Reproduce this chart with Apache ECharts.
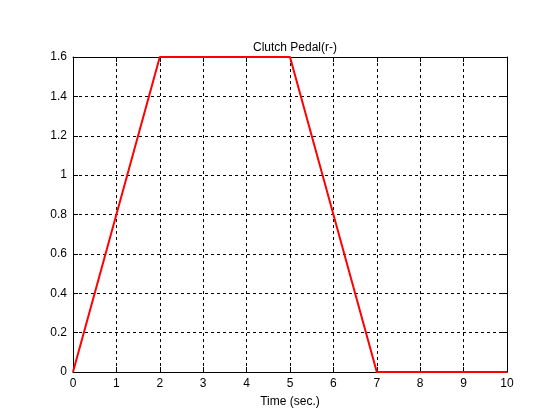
<!DOCTYPE html>
<html><head><meta charset="utf-8">
<script src="https://cdn.jsdelivr.net/npm/echarts@6/dist/echarts.min.js"></script>
<style>html,body{margin:0;padding:0;background:#fff}#c{width:560px;height:420px}</style>
</head><body><div id="c"></div>
<script>
const timeX = [0, 2, 5, 7, 10];
const pedal = [0, 1.6, 1.6, 0, 0];
const titleText = 'Clutch Pedal(r-)';
const xLabel = 'Time (sec.)';

const chart = echarts.init(document.getElementById('c'));
const font = 'Liberation Sans, Arial, sans-serif';
const tick = {show: true, inside: true, length: 5, lineStyle: {color: '#000', width: 1}};
const split = {show: true, lineStyle: {color: '#000', type: [3, 3], width: 1}};
chart.setOption({
  animation: false,
  backgroundColor: '#fff',
  title: {text: titleText, left: 290, top: 37, textAlign: 'center',
    textStyle: {fontFamily: font, fontSize: 12, fontWeight: 'normal', color: '#000'}},
  grid: {left: 73, right: 53, top: 57, bottom: 48, containLabel: false},
  xAxis: [
    {type: 'value', min: 0, max: 10, interval: 1, position: 'bottom',
     name: xLabel, nameLocation: 'middle', nameGap: 24,
     nameTextStyle: {fontFamily: font, fontSize: 12, color: '#000'},
     axisLine: {show: true, onZero: false, lineStyle: {color: '#000'}},
     axisTick: tick, splitLine: split,
     axisLabel: {fontFamily: font, fontSize: 12, color: '#000', margin: 6}},
    {type: 'value', min: 0, max: 10, interval: 1, position: 'top',
     axisLine: {show: true, onZero: false, lineStyle: {color: '#000'}},
     axisTick: tick, splitLine: {show: false}, axisLabel: {show: false}}
  ],
  yAxis: [
    {type: 'value', min: 0, max: 1.6, interval: 0.2, position: 'left',
     axisLine: {show: true, onZero: false, lineStyle: {color: '#000'}},
     axisTick: tick, splitLine: split,
     axisLabel: {fontFamily: font, fontSize: 12, color: '#000', margin: 6,
       formatter: v => String(Math.round(v * 10) / 10)}},
    {type: 'value', min: 0, max: 1.6, interval: 0.2, position: 'right',
     axisLine: {show: true, onZero: false, lineStyle: {color: '#000'}},
     axisTick: tick, splitLine: {show: false}, axisLabel: {show: false}}
  ],
  series: [{
    type: 'line', data: timeX.map((t, i) => [t, pedal[i]]),
    xAxisIndex: 0, yAxisIndex: 0, showSymbol: false, clip: true,
    lineStyle: {color: '#ff0000', width: 2}, z: 10
  }]
});
</script></body></html>
